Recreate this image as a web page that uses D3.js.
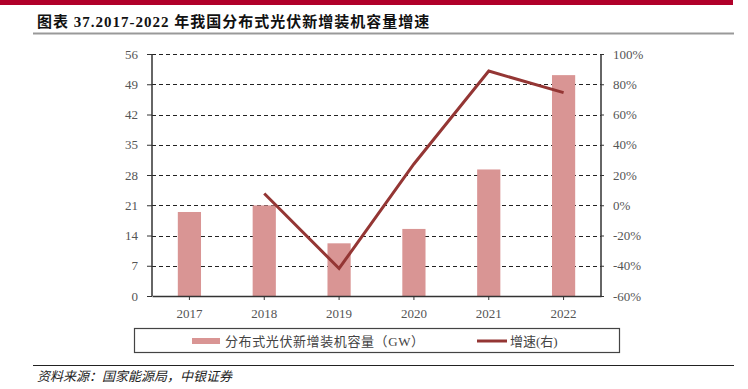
<!DOCTYPE html>
<html>
<head>
<meta charset="utf-8">
<script src="https://cdn.jsdelivr.net/npm/d3@7"></script>
<style>
  body { margin: 0; background: #fff; }
  svg { display: block; }
</style>
</head>
<body>
<script>
// Chart data
var years = ["2017", "2018", "2019", "2020", "2021", "2022"];
var capacity = [19.44, 20.96, 12.19, 15.52, 29.28, 51.11];      // GW
var growth = [null, 7.8, -41.8, 27.3, 88.7, 74.5];               // %
var leftTicks = [0, 7, 14, 21, 28, 35, 42, 49, 56];
var rightTicks = [-60, -40, -20, 0, 20, 40, 60, 80, 100];

var titleText = "图表 37.2017-2022 年我国分布式光伏新增装机容量增速";
var barLabel = "分布式光伏新增装机容量（GW）";
var lineLabel = "增速(右)";
var sourceText = "资料来源：国家能源局，中银证券";

window.onload = setChart();

function setChart(){

    var width = 748,
        height = 389;

    var svg = d3.select("body")
        .append("svg")
        .attr("width", width)
        .attr("height", height);

    var serif = "'Liberation Serif', 'Noto Sans CJK SC', serif";

    // Red band across the top
    svg.append("rect")
        .attr("x", 0).attr("y", 0)
        .attr("width", 733).attr("height", 5)
        .attr("fill", "#b0002a");

    // Title and underline
    svg.append("text")
        .attr("x", 37).attr("y", 27)
        .attr("font-family", serif)
        .attr("font-size", 15)
        .attr("font-weight", "bold")
        .attr("letter-spacing", 1)
        .attr("fill", "#111")
        .text(titleText);

    svg.append("line")
        .attr("x1", 33).attr("x2", 734)
        .attr("y1", 33.5).attr("y2", 33.5)
        .attr("stroke", "#999").attr("stroke-width", 2);

    // Plot frame
    var left = 152, right = 601, top = 54, bottom = 296;

    var x = d3.scaleBand()
        .domain(years)
        .range([left, right]);

    var yL = d3.scaleLinear()
        .domain([0, 56])
        .range([bottom, top]);

    var yR = d3.scaleLinear()
        .domain([-60, 100])
        .range([bottom, top]);

    // Dashed gridlines
    svg.append("g")
        .selectAll("line")
        .data(leftTicks.slice(1))
        .enter()
        .append("line")
        .attr("x1", left).attr("x2", right)
        .attr("y1", function(d){ return Math.round(yL(d)) + 0.5; })
        .attr("y2", function(d){ return Math.round(yL(d)) + 0.5; })
        .attr("stroke", "#222")
        .attr("stroke-width", 1)
        .attr("stroke-dasharray", "4,3");

    // Bars
    var barW = x.bandwidth() * 0.31;
    svg.append("g")
        .selectAll("rect")
        .data(capacity)
        .enter()
        .append("rect")
        .attr("x", function(d, i){ return x(years[i]) + x.bandwidth() / 2 - barW / 2; })
        .attr("y", function(d){ return yL(d); })
        .attr("width", barW)
        .attr("height", function(d){ return bottom - yL(d); })
        .attr("fill", "#d99594");

    // Growth line
    var line = d3.line()
        .defined(function(d){ return d != null; })
        .x(function(d, i){ return x(years[i]) + x.bandwidth() / 2; })
        .y(function(d){ return yR(d); });

    svg.append("path")
        .datum(growth)
        .attr("d", line)
        .attr("fill", "none")
        .attr("stroke", "#943634")
        .attr("stroke-width", 3);

    // Axes
    var axisColor = "#333";
    var labelColor = "#555";

    var leftAxis = svg.append("g")
        .attr("transform", "translate(" + left + ",0)")
        .call(d3.axisLeft(yL).tickValues(leftTicks).tickSize(5).tickPadding(9));

    var rightAxis = svg.append("g")
        .attr("transform", "translate(" + right + ",0)")
        .call(d3.axisRight(yR).tickValues(rightTicks).tickSize(3)
            .tickPadding(9).tickFormat(function(d){ return d + "%"; }));

    var xAxis = svg.append("g")
        .attr("transform", "translate(0," + bottom + ")")
        .call(d3.axisBottom(x).tickSize(4).tickPadding(9).tickSizeOuter(0));

    [leftAxis, rightAxis, xAxis].forEach(function(g){
        g.select(".domain").attr("stroke", axisColor).attr("stroke-width", 1.5);
        g.selectAll(".tick line").attr("stroke", axisColor);
        g.selectAll(".tick text")
            .attr("font-family", serif)
            .attr("font-size", 13)
            .attr("fill", labelColor);
    });
    leftAxis.select(".domain").attr("d", "M0," + top + "V" + bottom);
    rightAxis.select(".domain").attr("d", "M0," + top + "V" + bottom);

    // Legend box
    svg.append("rect")
        .attr("x", 134.5).attr("y", 328.5)
        .attr("width", 485).attr("height", 24)
        .attr("fill", "none")
        .attr("stroke", "#444")
        .attr("stroke-width", 1.2);

    svg.append("rect")
        .attr("x", 192).attr("y", 338)
        .attr("width", 28).attr("height", 6)
        .attr("fill", "#d99594");

    svg.append("text")
        .attr("x", 225).attr("y", 345.5)
        .attr("font-family", serif)
        .attr("font-size", 13)
        .attr("letter-spacing", 0.6)
        .attr("fill", "#444")
        .text(barLabel);

    svg.append("line")
        .attr("x1", 477).attr("x2", 507)
        .attr("y1", 341).attr("y2", 341)
        .attr("stroke", "#943634")
        .attr("stroke-width", 3);

    svg.append("text")
        .attr("x", 510).attr("y", 345.5)
        .attr("font-family", serif)
        .attr("font-size", 13)
        .attr("fill", "#444")
        .text(lineLabel);

    // Source
    svg.append("line")
        .attr("x1", 33).attr("x2", 734)
        .attr("y1", 365.5).attr("y2", 365.5)
        .attr("stroke", "#222").attr("stroke-width", 1);

    svg.append("text")
        .attr("x", 37).attr("y", 381)
        .attr("font-family", serif)
        .attr("font-size", 13)
        .attr("font-style", "italic")
        .attr("fill", "#222")
        .text(sourceText);
}
</script>
</body>
</html>
